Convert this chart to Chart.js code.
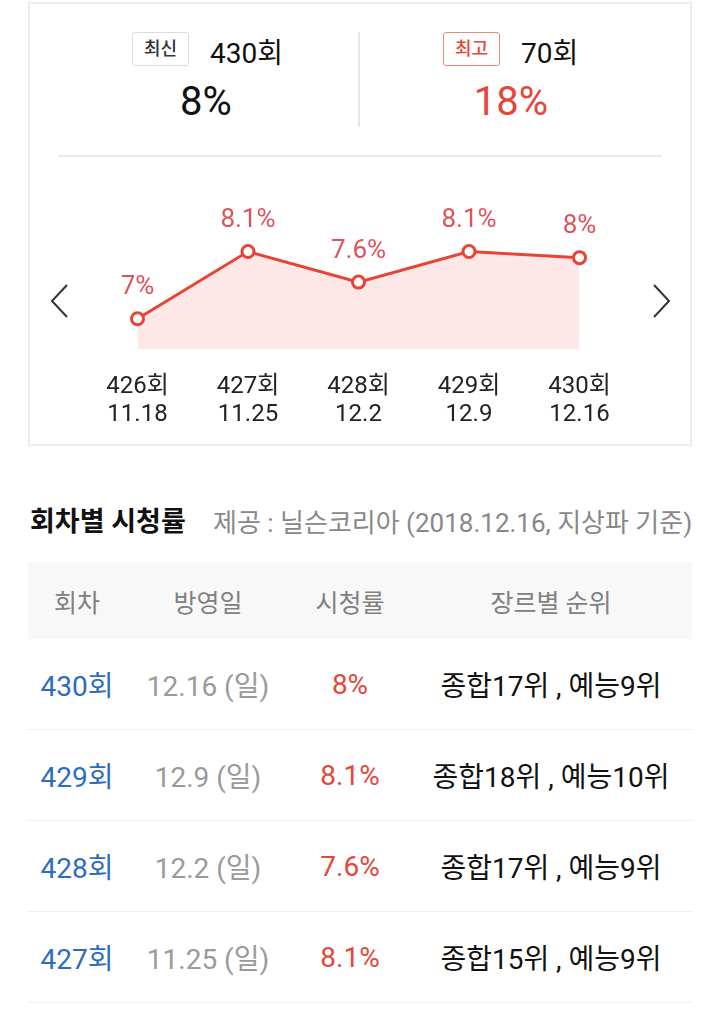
<!DOCTYPE html>
<html lang="ko">
<head>
<meta charset="utf-8">
<script src="https://cdn.jsdelivr.net/npm/chart.js@4.4.1/dist/chart.umd.min.js"></script>
<style>
  body { margin: 0; width: 720px; height: 1010px; background: #fff; position: relative; overflow: hidden;
         font-family: Roboto, "Noto Sans CJK KR", sans-serif; color: #222; }
  .card { position: absolute; left: 28px; top: 2px; width: 660px; height: 440px; border: 2px solid #ececec; }
  .abs { position: absolute; white-space: nowrap; }
  .badge { position: absolute; height: 32px; line-height: 32px; padding: 0 11px; border: 1.5px solid #dcdcdc;
           border-radius: 3px; font-size: 18px; font-weight: 500; color: #333; }
  .badge.red { border-color: #ec8a80; color: #e5463a; }
  .vdiv { position: absolute; left: 358px; top: 32px; width: 1.5px; height: 95px; background: #e6e6e6; }
  .hdiv { position: absolute; left: 58px; top: 155px; width: 604px; height: 2px; background: #ebebeb; }
  #chartWrap { position: absolute; left: 100px; top: 160px; width: 520px; height: 292px; }
  .title { left: 30px; top: 500px; font-size: 27px; font-weight: 700; color: #111; }
  .sub { left: 213px; top: 502px; font-size: 26px; color: #888; }
  table { position: absolute; left: 28px; top: 562px; width: 664px; border-collapse: collapse; table-layout: fixed; }
  th { height: 77px; background: #f8f8f8; font-weight: 400; font-size: 25px; color: #808080; padding: 0; }
  td { height: 90px; text-align: center; font-size: 28px; padding: 0; border-bottom: 1.5px solid #efefef; }
  td.ep { color: #2c6cc4; }
  td.date { color: #9a9a9a; }
  td.rate { color: #e5463a; }
  td.rank { color: #111; }
</style>
</head>
<body>
<div class="card"></div>

<div class="badge" style="left:132px; top:32px;">최신</div>
<div class="abs" id="latestEp" style="left:210px; top:31px; font-size:28px; color:#111;"></div>
<div class="abs" id="latestRate" style="left:206px; top:78px; font-size:40px; color:#111; transform:translateX(-50%);"></div>
<div class="vdiv"></div>
<div class="badge red" style="left:443px; top:32px;">최고</div>
<div class="abs" id="bestEp" style="left:521px; top:31px; font-size:28px; color:#111;"></div>
<div class="abs" id="bestRate" style="left:511px; top:78px; font-size:40px; color:#e5463a; transform:translateX(-50%);"></div>
<div class="hdiv"></div>

<svg class="abs" style="left:48px; top:283px;" width="24" height="36">
  <polyline points="19,2 4,18 19,34" fill="none" stroke="#333" stroke-width="2"/>
</svg>
<svg class="abs" style="left:650px; top:283px;" width="24" height="36">
  <polyline points="4,2 19,18 4,34" fill="none" stroke="#333" stroke-width="2"/>
</svg>

<div id="chartWrap"><canvas id="ratingChart" width="520" height="292"></canvas></div>

<div class="abs title">회차별 시청률</div>
<div class="abs sub">제공 : 닐슨코리아 (2018.12.16, 지상파 기준)</div>

<table>
  <colgroup><col style="width:98px"><col style="width:164px"><col style="width:120px"><col></colgroup>
  <thead><tr><th>회차</th><th>방영일</th><th>시청률</th><th>장르별 순위</th></tr></thead>
  <tbody id="rows"></tbody>
</table>

<script>
// chart data
const episodes = ['426회', '427회', '428회', '429회', '430회'];
const airDates = ['11.18', '11.25', '12.2', '12.9', '12.16'];
const ratings = [7, 8.1, 7.6, 8.1, 8];

// table data (newest first: 430회 .. 427회)
const weekdays = ['일', '일', '일', '일'];
const overallRanks = [17, 18, 17, 15];
const varietyRanks = [9, 10, 9, 9];

// best episode so far
const bestEpisode = '70회';
const bestRating = 18;

const red = '#e84335';

document.getElementById('latestEp').textContent = episodes[episodes.length - 1];
document.getElementById('latestRate').textContent = ratings[ratings.length - 1] + '%';
document.getElementById('bestEp').textContent = bestEpisode;
document.getElementById('bestRate').textContent = bestRating + '%';

// build table rows from the arrays
const tbody = document.getElementById('rows');
for (let i = 0; i < 4; i++) {
  const idx = episodes.length - 1 - i;
  const tr = document.createElement('tr');
  tr.innerHTML =
    '<td class="ep">' + episodes[idx] + '</td>' +
    '<td class="date">' + airDates[idx] + ' (' + weekdays[i] + ')</td>' +
    '<td class="rate">' + ratings[idx] + '%</td>' +
    '<td class="rank">종합' + overallRanks[i] + '위 , 예능' + varietyRanks[i] + '위</td>';
  tbody.appendChild(tr);
}

// value labels above each point
const pointLabels = {
  id: 'pointLabels',
  afterDatasetsDraw(chart) {
    const ctx = chart.ctx;
    const meta = chart.getDatasetMeta(0);
    ctx.save();
    ctx.font = '26px Roboto, "Noto Sans CJK KR", sans-serif';
    ctx.fillStyle = '#e0525a';
    ctx.textAlign = 'center';
    ctx.textBaseline = 'middle';
    meta.data.forEach(function(pt, i) {
      ctx.fillText(ratings[i] + '%', pt.x, pt.y - 31);
    });
    ctx.restore();
  }
};

const ctx = document.getElementById('ratingChart').getContext('2d');
new Chart(ctx, {
  type: 'line',
  data: {
    labels: episodes.map(function(ep, i) { return [ep, airDates[i]]; }),
    datasets: [{
      data: ratings,
      borderColor: red,
      borderWidth: 3,
      backgroundColor: '#fde7e7',
      fill: 'start',
      tension: 0,
      pointRadius: 6,
      pointBorderWidth: 3,
      pointBackgroundColor: '#fff',
      pointBorderColor: red,
      clip: false
    }]
  },
  options: {
    responsive: false,
    animation: false,
    layout: { padding: { left: 37.5, right: 40.5, top: 36.5, bottom: 0 } },
    plugins: { legend: { display: false }, tooltip: { enabled: false } },
    scales: {
      x: {
        offset: false,
        grid: { display: false, drawTicks: false },
        border: { display: false },
        afterFit(scale) {
          scale.paddingLeft = 0;
          scale.paddingRight = 0;
        },
        ticks: {
          padding: 23,
          color: '#222',
          maxRotation: 0,
          autoSkip: false,
          font: { family: 'Roboto, "Noto Sans CJK KR", sans-serif', size: 24, lineHeight: 1.18 }
        }
      },
      y: { display: false, min: 6.5, max: 9 }
    }
  },
  plugins: [pointLabels]
});
</script>
</body>
</html>
